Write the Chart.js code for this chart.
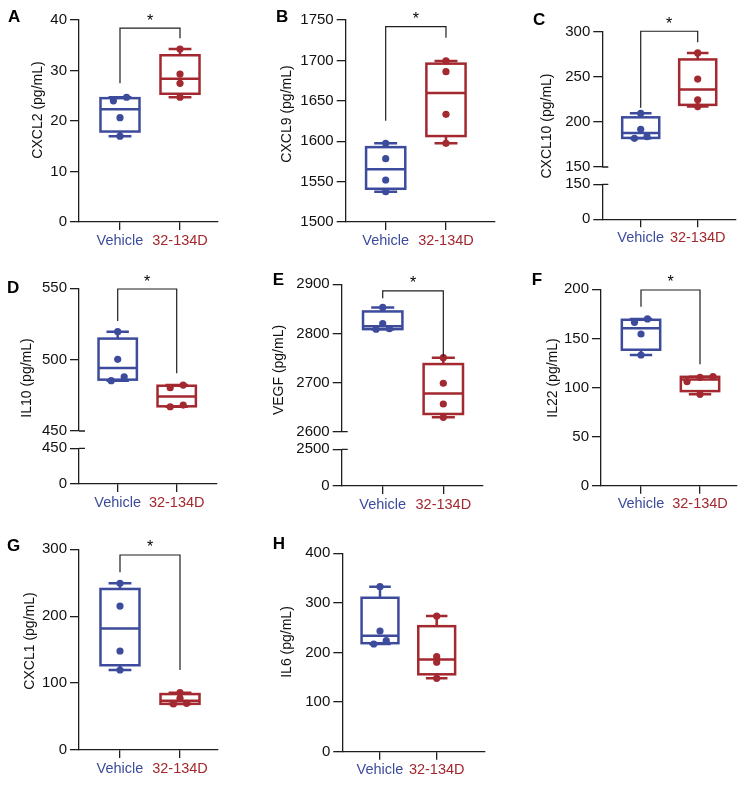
<!DOCTYPE html>
<html><head><meta charset="utf-8">
<script src="https://cdn.jsdelivr.net/npm/chart.js@4/dist/chart.umd.min.js"></script>
<style>
html,body{margin:0;padding:0;background:#fff;}
#wrap{position:relative;width:750px;height:789px;overflow:hidden;background:#fff;}
canvas{position:absolute;}
</style></head><body><div id="wrap"></div>
<script>
// ---------- data ----------
const groups = ['Vehicle', '32-134D'];
const panelLetters = ['A', 'B', 'C', 'D', 'E', 'F', 'G', 'H'];
const yTitles = ['CXCL2 (pg/mL)', 'CXCL9 (pg/mL)', 'CXCL10 (pg/mL)', 'IL10 (pg/mL)', 'VEGF (pg/mL)', 'IL22 (pg/mL)', 'CXCL1 (pg/mL)', 'IL6 (pg/mL)'];

const cxcl2Vehicle = [24.0, 24.7, 20.65, 17.0];
const cxcl2Treated = [34.26, 29.3, 27.46, 24.7];
const cxcl9Vehicle = [1597.4, 1578.4, 1552, 1537.5];
const cxcl9Treated = [1699.3, 1686, 1633.3, 1597.4];
const cxcl10Vehicle = [209.5, 191.8, 183.6, 181.8];
const cxcl10Treated = [276.5, 247.5, 224.5, 217];
const il10Vehicle = [519.6, 500.2, 488, 485.3];
const il10Treated = [482.2, 480.3, 468.2, 467];
const vegfVehicle = [2853, 2820, 2809.5, 2808.5];
const vegfTreated = [2750.7, 2698.6, 2656.4, 2629.3];
const il22Vehicle = [169.8, 166.4, 154.5, 133.1];
const il22Treated = [111, 110.4, 106, 93.1];
const cxcl1Vehicle = [249.2, 215.2, 148, 119.6];
const cxcl1Treated = [85.7, 77.3, 69.8, 68.8];
const il6Vehicle = [332.7, 243.3, 223.8, 217.1];
const il6Treated = [273.6, 191.5, 180.2, 148];

// tick labels (upper segment, lower segment for broken axes)
const ticksA = [0, 10, 20, 30, 40];
const ticksB = [1500, 1550, 1600, 1650, 1700, 1750];
const ticksCTop = [150, 200, 250, 300];
const ticksCBottom = [0, 150];
const ticksDTop = [450, 500, 550];
const ticksDBottom = [0, 450];
const ticksETop = [2600, 2700, 2800, 2900];
const ticksEBottom = [0, 2500];
const ticksF = [0, 50, 100, 150, 200];
const ticksG = [0, 100, 200, 300];
const ticksH = [0, 100, 200, 300, 400];

const significance = ['*', '*', '*', '*', '*', '*', '*', ''];

// ---------- layout / style ----------
const BLUE = '#3d4b9c';
const RED = '#a3282f';
const GROUP_COLORS = [BLUE, RED];
const AXIS = '#1e1e1e';
const FONT = "'Liberation Sans', Arial, Helvetica, sans-serif";
const BOX_W = 0.65, CAP_W = 0.38, JITTER = 0.22, TOL_PX = 4.5;

const panels = [
  {series: [cxcl2Vehicle, cxcl2Treated], top: ticksA, canvas: [0, 0, 250, 260], area: [79, 20, 218, 222], xr: [-0.683, 1.633], letter: [8, 21.5], title: [37.7, 110], bracket: [38.4, 27.5, 36.4]},
  {series: [cxcl9Vehicle, cxcl9Treated], top: ticksB, canvas: [250, 0, 250, 260], area: [345.7, 20, 495, 222], xr: [-0.663, 1.813], letter: [276, 21.7], title: [286.7, 114], bracket: [1741.7, 1625.4, 1728]},
  {series: [cxcl10Vehicle, cxcl10Treated], top: ticksCTop, bottom: ticksCBottom, weights: [135.3, 17.3, 35], canvas: [500, 0, 250, 260], area: [602.3, 31.7, 736, 219.3], xr: [-0.674, 1.672], letter: [533, 25], title: [546.7, 126], bracket: [300.5, 215.7, 288.2]},
  {series: [il10Vehicle, il10Treated], top: ticksDTop, bottom: ticksDBottom, weights: [142.7, 17.3, 35.7], canvas: [0, 260, 250, 260], area: [79, 288.3, 216.7, 484], xr: [-0.656, 1.678], letter: [7, 293], title: [27, 378], bracket: [549.5, 527, 490.4]},
  {series: [vegfVehicle, vegfTreated], top: ticksETop, bottom: ticksEBottom, weights: [147.4, 17.6, 36.7], canvas: [250, 260, 250, 260], area: [341.7, 284.3, 483, 486], xr: [-0.677, 1.655], letter: [272.7, 285], title: [279.3, 370], bracket: [2886.6, 2871.7, 2752.7]},
  {series: [il22Vehicle, il22Treated], top: ticksF, canvas: [500, 260, 250, 260], area: [601, 289.3, 737, 485.7], xr: [-0.678, 1.627], letter: [531.7, 285], title: [552.7, 378], bracket: [199.3, 182.3, 123.6]},
  {series: [cxcl1Vehicle, cxcl1Treated], top: ticksG, canvas: [0, 520, 250, 269], area: [79, 549.3, 218, 750], xr: [-0.683, 1.633], letter: [7, 550.7], title: [30, 641], bracket: [291.5, 265.6, 119.6]},
  {series: [il6Vehicle, il6Treated], top: ticksH, canvas: [250, 520, 250, 269], area: [342.3, 553.3, 485, 751.7], xr: [-0.665, 1.852], letter: [272.7, 549], title: [287.3, 642], bracket: null}
];

// ---------- helpers ----------
function quantile(sorted, p) {
  const n = sorted.length;
  const pos = (n + 1) * p;
  const k = Math.floor(pos);
  const f = pos - k;
  if (k < 1) return sorted[0];
  if (k >= n) return sorted[n - 1];
  return sorted[k - 1] + f * (sorted[k] - sorted[k - 1]);
}
function stats(vals) {
  const s = vals.slice().sort((a, b) => a - b);
  return {min: s[0], q1: quantile(s, 0.25), med: quantile(s, 0.5), q3: quantile(s, 0.75), max: s[s.length - 1]};
}
function jitter(vals, gi, pxPerUnit) {
  const s = vals.slice().sort((a, b) => a - b);
  const out = [];
  let cluster = [s[0]];
  const flush = () => {
    const k = cluster.length;
    cluster.forEach((v, i) => out.push({x: gi + (i - (k - 1) / 2) * JITTER, y: v}));
  };
  for (let i = 1; i < s.length; i++) {
    if ((s[i] - s[i - 1]) * pxPerUnit < TOL_PX) cluster.push(s[i]);
    else { flush(); cluster = [s[i]]; }
  }
  flush();
  return out;
}

const boxPlugin = {
  id: 'boxes',
  beforeDatasetsDraw(chart) {
    const p = chart.$panel;
    const ctx = chart.ctx;
    const xs = chart.scales.x, ys = chart.scales.yTop;
    ctx.save();
    p.series.forEach((vals, gi) => {
      const st = stats(vals);
      const cx = xs.getPixelForValue(gi);
      const hb = (xs.getPixelForValue(gi + BOX_W / 2) - xs.getPixelForValue(gi - BOX_W / 2)) / 2;
      const hc = (xs.getPixelForValue(gi + CAP_W / 2) - xs.getPixelForValue(gi - CAP_W / 2)) / 2;
      const y = v => ys.getPixelForValue(v);
      ctx.strokeStyle = GROUP_COLORS[gi];
      ctx.lineWidth = 2.5;
      ctx.lineJoin = 'miter';
      ctx.lineCap = 'butt';
      ctx.strokeRect(cx - hb, y(st.q3), 2 * hb, y(st.q1) - y(st.q3));
      ctx.beginPath();
      ctx.moveTo(cx - hb, y(st.med)); ctx.lineTo(cx + hb, y(st.med));
      ctx.moveTo(cx, y(st.q3)); ctx.lineTo(cx, y(st.max));
      ctx.moveTo(cx, y(st.q1)); ctx.lineTo(cx, y(st.min));
      ctx.moveTo(cx - hc, y(st.max)); ctx.lineTo(cx + hc, y(st.max));
      ctx.moveTo(cx - hc, y(st.min)); ctx.lineTo(cx + hc, y(st.min));
      ctx.stroke();
    });
    ctx.restore();
  },
  afterDraw(chart) {
    const p = chart.$panel;
    const ctx = chart.ctx;
    const [cl, ct] = p.canvas;
    const xs = chart.scales.x, ys = chart.scales.yTop;
    ctx.save();
    // panel letter
    ctx.fillStyle = '#000';
    ctx.font = 'bold 17px ' + FONT;
    ctx.textAlign = 'left';
    ctx.textBaseline = 'alphabetic';
    ctx.fillText(p.letterText, p.letter[0] - cl, p.letter[1] - ct);
    // y title
    ctx.save();
    ctx.translate(p.title[0] - cl, p.title[1] - ct);
    ctx.rotate(-Math.PI / 2);
    ctx.font = '14px ' + FONT;
    ctx.fillStyle = '#111';
    ctx.textAlign = 'center';
    ctx.textBaseline = 'middle';
    ctx.fillText(p.titleText, 0, 0);
    ctx.restore();
    // break marks
    if (p.bottom) {
      const yb = chart.scales.yBot;
      const ax = ys.right;
      ctx.strokeStyle = AXIS;
      ctx.lineWidth = 1.3;
      ctx.beginPath();
      const y1 = ys.getPixelForValue(p.top[0]);
      const y2 = yb.getPixelForValue(p.bottom[p.bottom.length - 1]);
      ctx.moveTo(ax, y1); ctx.lineTo(ax + 6, y1);
      ctx.moveTo(ax, y2); ctx.lineTo(ax + 6, y2);
      ctx.stroke();
    }
    // significance bracket
    if (p.bracket && p.sig) {
      const [topV, leftV, rightV] = p.bracket;
      const x0 = xs.getPixelForValue(0), x1 = xs.getPixelForValue(1);
      const yt = ys.getPixelForValue(topV);
      ctx.strokeStyle = AXIS;
      ctx.lineWidth = 1.2;
      ctx.beginPath();
      ctx.moveTo(x0, ys.getPixelForValue(leftV));
      ctx.lineTo(x0, yt);
      ctx.lineTo(x1, yt);
      ctx.lineTo(x1, ys.getPixelForValue(rightV));
      ctx.stroke();
      ctx.fillStyle = '#000';
      ctx.font = '16px ' + FONT;
      ctx.textAlign = 'center';
      ctx.textBaseline = 'alphabetic';
      ctx.fillText(p.sig, (x0 + x1) / 2, yt - 2.5);
    }
    ctx.restore();
  }
};

const wrap = document.getElementById('wrap');

function yScale(ticksArr, yW, extra) {
  return Object.assign({
    type: 'linear',
    position: 'left',
    min: ticksArr[0],
    max: ticksArr[ticksArr.length - 1],
    afterBuildTicks: s => { s.ticks = ticksArr.map(v => ({value: v})); },
    afterFit: s => { s.width = yW; },
    ticks: {callback: v => String(v), color: '#111', padding: 3, font: {size: 15, family: FONT}},
    grid: {drawOnChartArea: false, drawTicks: true, tickLength: 9, color: AXIS, lineWidth: 1.3},
    border: {display: true, color: AXIS, width: 1.3}
  }, extra || {});
}

panels.forEach((p, idx) => {
  p.letterText = panelLetters[idx];
  p.titleText = yTitles[idx];
  p.sig = significance[idx];
  const [cl, ct, cw, ch] = p.canvas;
  const [al, at, ar, ab] = p.area;
  const canvas = document.createElement('canvas');
  canvas.width = cw; canvas.height = ch;
  canvas.style.left = cl + 'px'; canvas.style.top = ct + 'px';
  canvas.style.width = cw + 'px'; canvas.style.height = ch + 'px';
  wrap.appendChild(canvas);
  const yW = al - cl;
  const xH = ct + ch - ab;

  const scales = {
    x: {
      type: 'linear',
      position: 'bottom',
      min: p.xr[0], max: p.xr[1],
      afterBuildTicks: s => { s.ticks = groups.map((g, i) => ({value: i})); },
      afterFit: s => { s.height = xH; },
      ticks: {callback: v => groups[v], color: c => GROUP_COLORS[c.index] || '#000', padding: 2, maxRotation: 0, autoSkip: false, font: {size: 14.5, family: FONT}},
      grid: {drawOnChartArea: false, drawTicks: true, tickLength: 8, color: AXIS, lineWidth: 1.3},
      border: {display: true, color: AXIS, width: 1.3}
    }
  };
  let topPx;
  if (p.bottom) {
    const w = p.weights;
    topPx = w[0];
    // stacked scales are laid out from the last defined (top) to the first (bottom)
    scales.yBot = yScale(p.bottom, yW, {stack: 'y', stackWeight: w[2]});
    scales.yGap = {
      type: 'linear', position: 'left', stack: 'y', stackWeight: w[1], min: 0, max: 1,
      afterFit: s => { s.width = yW; },
      ticks: {display: false}, grid: {display: false}, border: {display: false}
    };
    scales.yTop = yScale(p.top, yW, {stack: 'y', stackWeight: w[0]});
  } else {
    topPx = ab - at;
    scales.yTop = yScale(p.top, yW);
  }
  const pxPerUnit = topPx / (p.top[p.top.length - 1] - p.top[0]);

  const datasets = p.series.map((vals, gi) => ({
    label: groups[gi],
    data: jitter(vals, gi, pxPerUnit),
    xAxisID: 'x',
    yAxisID: 'yTop',
    backgroundColor: GROUP_COLORS[gi],
    borderColor: GROUP_COLORS[gi],
    borderWidth: 0,
    pointRadius: 3.6,
    pointHoverRadius: 3.6
  }));

  new Chart(canvas, {
    type: 'scatter',
    data: {datasets},
    options: {
      responsive: false,
      animation: false,
      events: [],
      devicePixelRatio: 1,
      layout: {padding: {top: at - ct, right: cl + cw - ar, left: 0, bottom: 0}},
      plugins: {legend: {display: false}, tooltip: {enabled: false}, title: {display: false}},
      scales
    },
    plugins: [{id: 'panelRef', beforeInit(c) { c.$panel = p; }}, boxPlugin]
  });
});
</script>
</body></html>
